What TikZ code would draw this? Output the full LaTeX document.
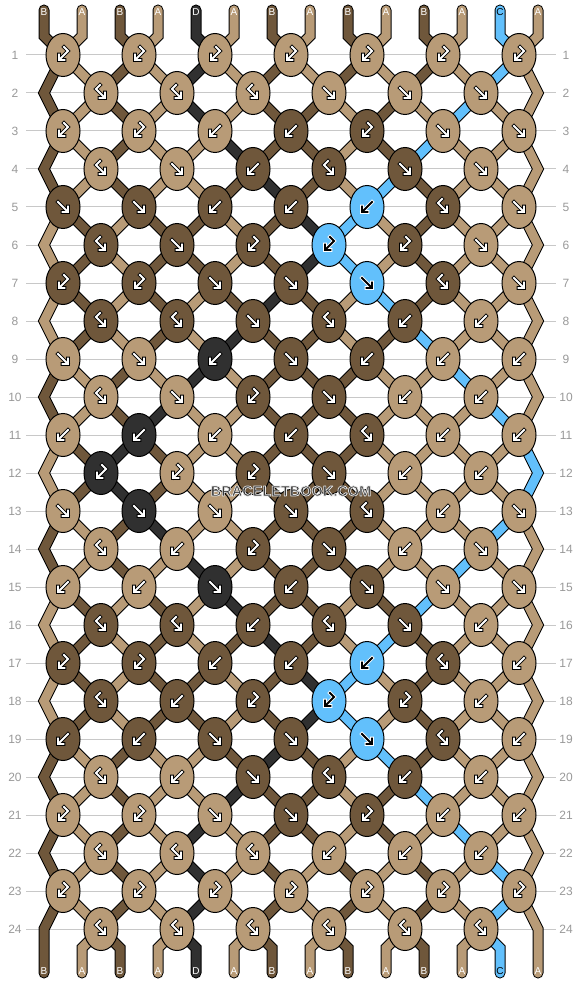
\documentclass[tikz,border=0pt]{standalone}
\usepackage{fontspec}
\setmainfont{Liberation Sans}
\usetikzlibrary{shapes.geometric}
\pgfdeclarelayer{fg}
\pgfsetlayers{main,fg}
\definecolor{cA}{HTML}{B89B77}
\definecolor{cB}{HTML}{6F573B}
\definecolor{cC}{HTML}{62C0FC}
\definecolor{cD}{HTML}{303030}
\definecolor{gridgray}{HTML}{C8C8C8}
\definecolor{numgray}{HTML}{999999}
\definecolor{wmark}{HTML}{3A3A3A}
\def\cCname{cC}
\tikzset{
  strand/.style={draw=black, line width=1pt, double=#1, double distance=9pt, line join=miter, line cap=butt},
  tail/.style={strand=#1, line cap=round},
  knot/.style={ellipse, draw=black, line width=1pt, minimum width=34pt, minimum height=43pt, inner sep=0pt, outer sep=0pt},
  glyph/.style={draw=black, double=white, line width=0.9pt, double distance=1.8pt, line cap=rect, line join=miter},
  glyphinv/.style={draw=white, double=black, line width=0.9pt, double distance=1.8pt, line cap=rect, line join=miter},
  rownum/.style={text=numgray, font=\fontsize{12}{12}\selectfont, inner sep=0pt},
  letter/.style={font=\fontsize{10}{10}\selectfont, inner sep=0pt},
  wmtext/.style={font=\bfseries\fontsize{14.5}{14.5}\selectfont, inner sep=0pt}
}
% one text with a light outline (fill + stroke render mode)
\newcommand\halotext[1]{\textcolor{wmark}{\special{pdf:literal direct 2 Tr 0.7 w 1 j 0.9 0.9 0.9 RG}#1\special{pdf:literal direct 0 Tr}}}
% knot types: 1 forward, 2 backward, 3 forward-backward, 4 backward-forward
\expandafter\def\csname rt1\endcsname{4,4,4,4,4,4,4}
\expandafter\def\csname rt2\endcsname{3,3,3,1,1,1}
\expandafter\def\csname rt3\endcsname{4,4,2,2,4,1,1}
\expandafter\def\csname rt4\endcsname{3,1,2,3,1,1}
\expandafter\def\csname rt5\endcsname{1,1,2,2,2,3,1}
\expandafter\def\csname rt6\endcsname{3,1,4,4,4,1}
\expandafter\def\csname rt7\endcsname{4,4,1,1,1,3,1}
\expandafter\def\csname rt8\endcsname{3,3,1,3,2,2}
\expandafter\def\csname rt9\endcsname{1,1,2,1,2,2,2}
\expandafter\def\csname rt10\endcsname{3,1,4,1,2,2}
\expandafter\def\csname rt11\endcsname{2,2,2,2,3,2,2}
\expandafter\def\csname rt12\endcsname{4,4,4,1,2,2}
\expandafter\def\csname rt13\endcsname{1,1,1,1,3,2,1}
\expandafter\def\csname rt14\endcsname{3,2,4,1,2,1}
\expandafter\def\csname rt15\endcsname{2,2,1,2,1,1,1}
\expandafter\def\csname rt16\endcsname{3,3,2,3,1,2}
\expandafter\def\csname rt17\endcsname{4,4,2,2,2,3,2}
\expandafter\def\csname rt18\endcsname{3,2,4,4,4,2}
\expandafter\def\csname rt19\endcsname{2,2,1,1,1,3,2}
\expandafter\def\csname rt20\endcsname{3,2,1,3,2,2}
\expandafter\def\csname rt21\endcsname{4,4,1,1,4,2,2}
\expandafter\def\csname rt22\endcsname{3,3,3,2,2,2}
\expandafter\def\csname rt23\endcsname{4,4,4,4,4,4,4}
\expandafter\def\csname rt24\endcsname{3,3,3,3,3,3}
\newcommand\kglyph[3]{%
  \begin{scope}[shift={(#1)}]
  \ifcase#2\relax
  \or \draw[#3] (-5,-5) -- (4.5,4.5) (-0.5,5) -- (5,5) -- (5,-0.5);
  \or \draw[#3] (5,-5) -- (-4.5,4.5) (0.5,5) -- (-5,5) -- (-5,-0.5);
  \or \draw[#3] (-1,-8) -- (-5,-4) -- (3.5,4.5) (-1.5,5) -- (4,5) -- (4,-0.5);
  \or \draw[#3] (1,-8) -- (5,-4) -- (-3.5,4.5) (1.5,5) -- (-4,5) -- (-4,-0.5);
  \fi
  \end{scope}}
\begin{document}
\begin{tikzpicture}[x=1pt, y=-1pt]
\fill[white] (0,0) rectangle (582,984);
\useasboundingbox (0,0) rectangle (582,984);
% grid lines, row numbers and position coordinates
\foreach \r in {1,...,24} {
  \pgfmathsetmacro\yy{55+38*(\r-1)}
  \draw[gridgray, line width=1pt] (26,\yy) -- (556,\yy);
  \node[rownum] (ln-\r) at (15,\yy) {\r};
  \node[rownum] (rn-\r) at (566,\yy) {\r};
  \foreach \p in {0,...,13} {
    \pgfmathtruncatemacro\xx{isodd(\r) ? 63+76*floor(\p/2) : (\p==0 ? 44 : (\p==13 ? 538 : 101+76*floor((\p-1)/2)))}
    \coordinate (p-\r-\p) at (\xx,\yy);
  }
}
\foreach \p in {0,...,13} {
  \pgfmathtruncatemacro\xx{44+38*\p}
  \coordinate (tt-\p) at (\xx,10);
  \coordinate (tm-\p) at (\xx,36);
  \coordinate (bm-\p) at (\xx,948);
  \coordinate (be-\p) at (\xx,973);
}
\foreach \cc [count=\p from 0] in {B,A,B,A,D,A,B,A,B,A,B,A,C,A} {\expandafter\xdef\csname s\p\endcsname{c\cc}}
% rows
\foreach \r in {1,...,24} {
  \foreach \p in {0,...,13} {\expandafter\xdef\csname t\p\endcsname{\csname s\p\endcsname}}
  \pgfmathtruncatemacro\off{isodd(\r) ? 0 : 1}
  \edef\types{\csname rt\r\endcsname}
  \foreach \kt [count=\kk from 0] in \types {
    \pgfmathtruncatemacro\ka{2*\kk+\off}
    \pgfmathtruncatemacro\kb{\ka+1}
    \edef\ca{\csname s\ka\endcsname}
    \edef\cb{\csname s\kb\endcsname}
    \ifodd\kt\relax \edef\kc{\ca}\else \edef\kc{\cb}\fi
    \ifnum\kt<3\relax
      \expandafter\xdef\csname s\ka\endcsname{\cb}%
      \expandafter\xdef\csname s\kb\endcsname{\ca}%
    \fi
    \ifx\kc\cCname \def\gsty{glyphinv}\else \def\gsty{glyph}\fi
    \begin{pgfonlayer}{fg}
      \node[knot, fill=\kc] (n-\r-\kk) at (p-\r-\ka) {};
      \kglyph{p-\r-\ka}{\kt}{\gsty}
    \end{pgfonlayer}
  }
  \ifnum\r=1\relax
    \foreach \p in {0,...,13} {
      \edef\col{\csname t\p\endcsname}
      \draw[tail=\col] (tt-\p) -- (tm-\p) -- (p-1-\p);
    }
  \else
    \pgfmathtruncatemacro\rp{\r-1}
    \pgfmathtruncatemacro\rn{\r+1}
    \foreach \p in {1,...,12} {
      \edef\col{\csname t\p\endcsname}
      \draw[strand=\col] (p-\rp-\p) -- (p-\r-\p);
    }
    \ifodd\r\relax\else
      \edef\colL{\csname t0\endcsname}
      \edef\colR{\csname t13\endcsname}
      \ifnum\r=24\relax
        \draw[tail=\colL] (p-23-0) -- (p-24-0) -- (be-0);
        \draw[tail=\colR] (p-23-13) -- (p-24-13) -- (be-13);
      \else
        \draw[strand=\colL] (p-\rp-0) -- (p-\r-0) -- (p-\rn-0);
        \draw[strand=\colR] (p-\rp-13) -- (p-\r-13) -- (p-\rn-13);
      \fi
    \fi
  \fi
}
\foreach \p in {1,...,12} {
  \edef\col{\csname s\p\endcsname}
  \draw[tail=\col] (p-24-\p) -- (bm-\p) -- (be-\p);
}
% letters
\foreach \cc [count=\p from 0] in {B,A,B,A,D,A,B,A,B,A,B,A,C,A} {
  \def\tc{white}\if\cc C\def\tc{black}\fi
  \pgfmathtruncatemacro\xx{44+38*\p}
  \node[letter, text=\tc] (top-\p) at (\xx,12) {\cc};
  \node[letter, text=\tc] (bot-\p) at (\xx,971) {\cc};
}
\begin{pgfonlayer}{fg}
\node[wmtext] (wm) at (291,491) {\halotext{BRACELETBOOK.COM}};
\end{pgfonlayer}
\end{tikzpicture}
\end{document}
